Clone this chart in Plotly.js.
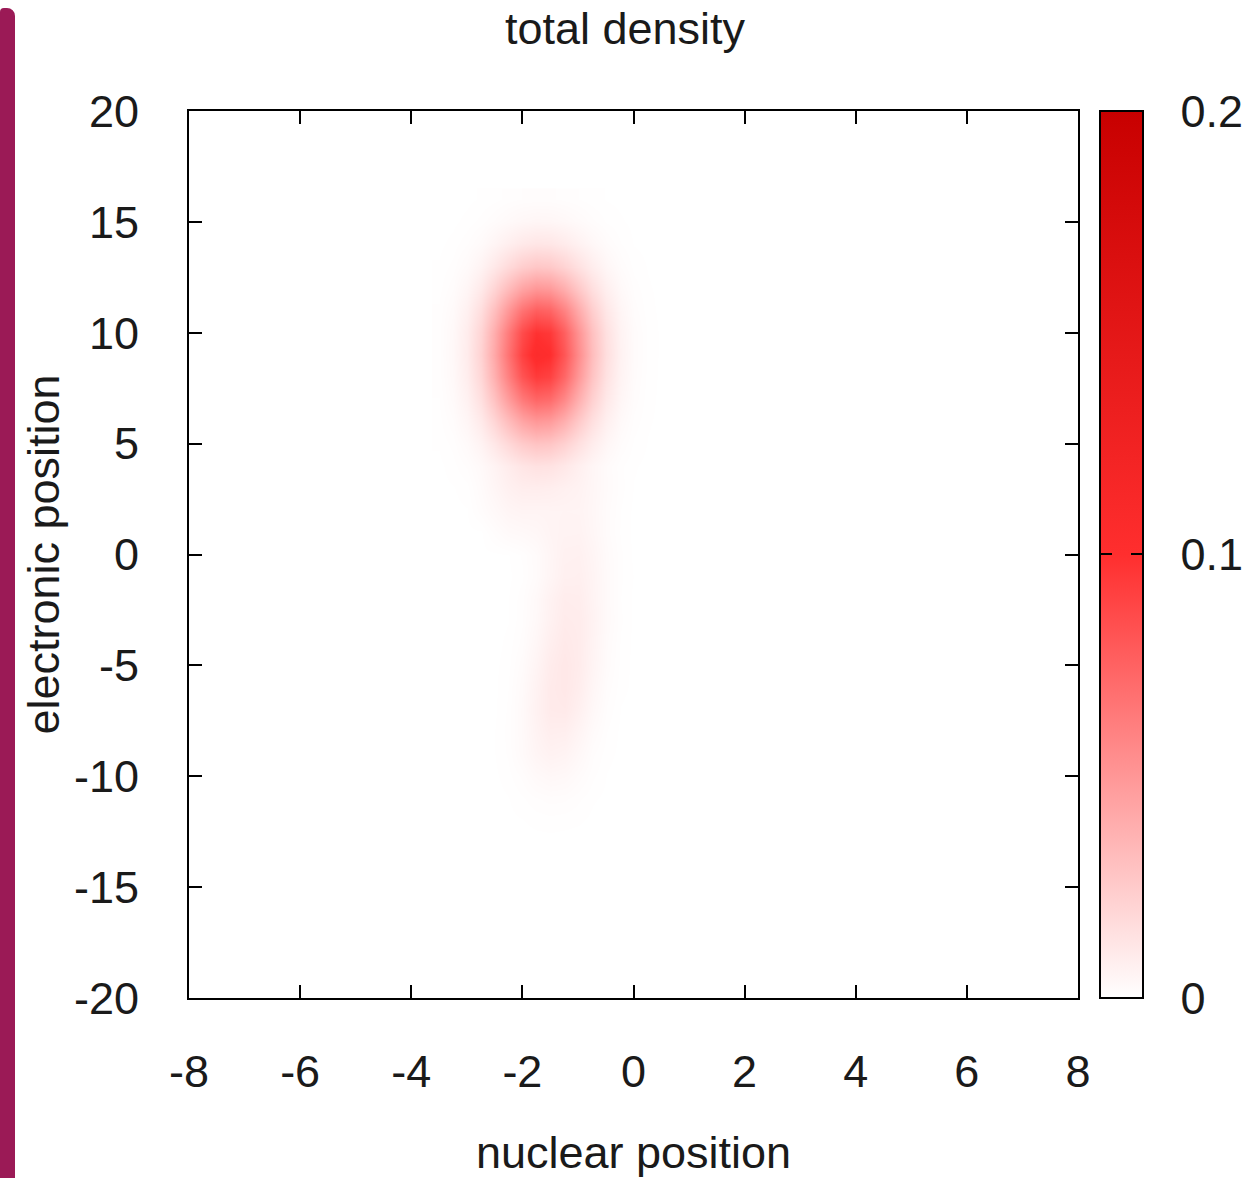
<!DOCTYPE html>
<html>
<head>
<meta charset="utf-8">
<script src="https://cdn.plot.ly/plotly-3.0.1.min.js"></script>
<style>
  html, body { margin: 0; padding: 0; background: #ffffff; }
  #chart { width: 1245px; height: 1178px; position: relative; }
  #edge { position: absolute; left: 0; top: 8px; width: 15px; height: 1170px;
          background: #9b1a56; border-top-right-radius: 8px; border-top-left-radius: 4px; z-index: 5; }
  .cbtick { position: absolute; top: 553px; width: 11px; height: 2px; background: #000; z-index: 5; }
</style>
</head>
<body>
<div id="chart">
  <div id="edge"></div>
  <div class="cbtick" style="left:1101px"></div>
  <div class="cbtick" style="left:1131px"></div>
</div>
<script>
// nuclear position grid (x) and electronic position grid (y)
const nuclearPos = [-3.5, -3.25, -3, -2.75, -2.5, -2.25, -2, -1.75, -1.5, -1.25, -1, -0.75, -0.5, -0.25, 0, 0.25, 0.5];
const electronicPos = [-13, -12, -11, -10, -9, -8, -7, -6, -5, -4, -3, -2, -1, 0, 1, 2, 3, 4, 5, 6, 7, 8, 9, 10, 11, 12, 13, 14, 15, 16];
// density values, one row per electronic position
const density = [
  [0,0,0,0,0,0,0,0,0,0,0,0,0,0,0,0,0],
  [0,0,0,0,0,0.0001,0.0002,0.0004,0.0005,0.0004,0.0003,0.0001,0,0,0,0,0],
  [0,0,0,0,0,0.0002,0.0006,0.0011,0.0014,0.0013,0.0008,0.0003,0.0001,0,0,0,0],
  [0,0,0,0,0.0001,0.0005,0.0013,0.0027,0.0035,0.0031,0.0019,0.0008,0.0002,0,0,0,0],
  [0,0,0,0,0.0002,0.0008,0.0025,0.0048,0.0062,0.0055,0.0034,0.0013,0.0004,0.0001,0,0,0],
  [0,0,0,0,0.0002,0.0009,0.0027,0.0057,0.0081,0.0078,0.0051,0.0022,0.0007,0.0001,0,0,0],
  [0,0,0,0,0.0001,0.0008,0.0028,0.0064,0.0098,0.0102,0.0071,0.0034,0.0011,0.0002,0,0,0],
  [0,0,0,0,0.0001,0.0007,0.0025,0.006,0.0099,0.0111,0.0085,0.0043,0.0015,0.0004,0.0001,0,0],
  [0,0,0,0,0.0001,0.0005,0.002,0.0051,0.0092,0.0112,0.0092,0.0051,0.002,0.0005,0.0001,0,0],
  [0,0,0,0,0,0.0004,0.0014,0.0041,0.0079,0.0104,0.0092,0.0056,0.0022,0.0006,0.0001,0,0],
  [0,0,0,0,0,0.0002,0.0011,0.0032,0.0067,0.0095,0.0091,0.006,0.0026,0.0008,0.0001,0,0],
  [0,0,0,0,0,0.0002,0.001,0.0029,0.0062,0.0088,0.0085,0.0055,0.0025,0.0007,0.0001,0,0],
  [0,0,0,0,0,0.0001,0.0006,0.002,0.0047,0.0072,0.0075,0.0053,0.0025,0.0008,0.0002,0,0],
  [0,0,0,0.0001,0.0001,0.0002,0.0008,0.0021,0.0045,0.0067,0.0069,0.0049,0.0023,0.0008,0.0001,0,0],
  [0,0,0.0001,0.0001,0.0013,0.0025,0.003,0.0037,0.0051,0.0058,0.0059,0.0041,0.0019,0.0006,0.0001,0,0],
  [0,0.0001,0.0002,0.0015,0.0029,0.0046,0.0053,0.0052,0.0054,0.0055,0.0054,0.0039,0.0019,0.0007,0.0001,0,0],
  [0.0001,0.0002,0.0005,0.0022,0.0044,0.0069,0.0084,0.0086,0.0081,0.007,0.006,0.0041,0.0022,0.0009,0.0002,0,0],
  [0.0001,0.0005,0.0013,0.0029,0.0056,0.009,0.0123,0.0141,0.0136,0.011,0.0075,0.0043,0.0021,0.0008,0.0003,0.0001,0],
  [0.0003,0.0009,0.0025,0.0058,0.0112,0.0182,0.0247,0.0283,0.0272,0.0221,0.015,0.0086,0.0041,0.0017,0.0006,0.0002,0],
  [0.0005,0.0016,0.0044,0.01,0.0193,0.0313,0.0426,0.0488,0.0469,0.038,0.0258,0.0148,0.0071,0.0028,0.001,0.0003,0.0001],
  [0.0007,0.0024,0.0065,0.015,0.0288,0.0468,0.0636,0.0729,0.0702,0.0568,0.0386,0.0221,0.0106,0.0043,0.0015,0.0004,0.0001],
  [0.0009,0.0031,0.0084,0.0193,0.0371,0.0601,0.0818,0.0937,0.0902,0.0731,0.0497,0.0284,0.0137,0.0055,0.0019,0.0005,0.0001],
  [0.001,0.0034,0.0093,0.0214,0.0411,0.0667,0.0908,0.104,0.1001,0.081,0.0551,0.0315,0.0152,0.0061,0.0021,0.0006,0.0001],
  [0.001,0.0032,0.0088,0.0202,0.0388,0.0629,0.0857,0.0981,0.0945,0.0765,0.052,0.0297,0.0143,0.0057,0.002,0.0006,0.0001],
  [0.0008,0.0025,0.0069,0.0158,0.0304,0.0493,0.0671,0.0769,0.074,0.0599,0.0407,0.0233,0.0112,0.0045,0.0015,0.0004,0.0001],
  [0.0005,0.0016,0.0045,0.0102,0.0197,0.0319,0.0434,0.0497,0.0479,0.0388,0.0264,0.0151,0.0073,0.0029,0.001,0.0003,0.0001],
  [0.0003,0.0009,0.0024,0.0055,0.0106,0.0171,0.0233,0.0267,0.0257,0.0208,0.0141,0.0081,0.0039,0.0016,0.0005,0.0002,0],
  [0.0001,0.0004,0.0011,0.0024,0.0047,0.0076,0.0104,0.0119,0.0115,0.0093,0.0063,0.0036,0.0017,0.0007,0.0002,0.0001,0],
  [0,0.0001,0.0004,0.0009,0.0017,0.0028,0.0038,0.0044,0.0042,0.0034,0.0023,0.0013,0.0006,0.0003,0.0001,0,0],
  [0,0,0.0001,0.0003,0.0005,0.0009,0.0012,0.0013,0.0013,0.001,0.0007,0.0004,0.0002,0.0001,0,0,0]
];
const xTickVals = [-8, -6, -4, -2, 0, 2, 4, 6, 8];
const xTickText = ['-8', '-6', '-4', '-2', '0', '2', '4', '6', '8'];
const yTickVals = [-20, -15, -10, -5, 0, 5, 10, 15, 20];
const yTickText = ['-20', '-15', '-10', '-5', '0', '5', '10', '15', '20'];
const cbTickVals = [0, 0.1, 0.2];
const cbTickText = ['0', '0.1', '0.2'];

const FONT = 'Liberation Sans, Arial, sans-serif';
const INK = '#1a1a1a';

const trace = {
  type: 'heatmap',
  x: nuclearPos,
  y: electronicPos,
  z: density,
  zmin: 0,
  zmax: 0.2,
  zsmooth: 'best',
  colorscale: [[0, 'rgb(255,255,255)'], [0.5, 'rgb(255,46,46)'], [1, 'rgb(200,0,0)']],
  hoverinfo: 'skip',
  colorbar: {
    x: 1 + 22 / 889, xanchor: 'left', xref: 'paper',
    y: 0.5, yanchor: 'middle', len: 1, lenmode: 'fraction',
    thickness: 43, thicknessmode: 'pixels',
    outlinewidth: 2, outlinecolor: '#000',
    tickmode: 'array', tickvals: cbTickVals, ticktext: cbTickText,
    ticks: 'outside', ticklen: 28, tickwidth: 1, tickcolor: 'rgba(0,0,0,0)',
    tickfont: { family: FONT, size: 45, color: INK },
    xpad: 0, ypad: 0
  }
};

const axisCommon = {
  showgrid: false, zeroline: false,
  showline: true, linewidth: 2, linecolor: '#000', mirror: 'allticks',
  ticks: 'inside', ticklen: 13, tickwidth: 2, tickcolor: '#000',
  tickfont: { family: FONT, size: 45, color: INK },
  tickmode: 'array', automargin: false
};

const layout = {
  width: 1245, height: 1178,
  margin: { l: 189, r: 167, t: 111, b: 180, autoexpand: false },
  paper_bgcolor: '#ffffff', plot_bgcolor: '#ffffff',
  title: {
    text: 'total density',
    font: { family: FONT, size: 45, color: INK },
    xref: 'container', x: 625 / 1245, xanchor: 'center',
    yref: 'container', y: 1 - 28 / 1178, yanchor: 'middle'
  },
  xaxis: Object.assign({}, axisCommon, {
    range: [-8, 8], tickvals: xTickVals, ticktext: xTickText,
    ticklabelstandoff: 33,
    title: { text: 'nuclear position', font: { family: FONT, size: 45, color: INK }, standoff: 40 }
  }),
  yaxis: Object.assign({}, axisCommon, {
    range: [-20, 20], tickvals: yTickVals, ticktext: yTickText,
    ticklabelstandoff: 39,
    title: { text: 'electronic position', font: { family: FONT, size: 45, color: INK }, standoff: 0 }
  }),
  showlegend: false
};

Plotly.newPlot('chart', [trace], layout, { displayModeBar: false, staticPlot: true });
</script>
</body>
</html>
